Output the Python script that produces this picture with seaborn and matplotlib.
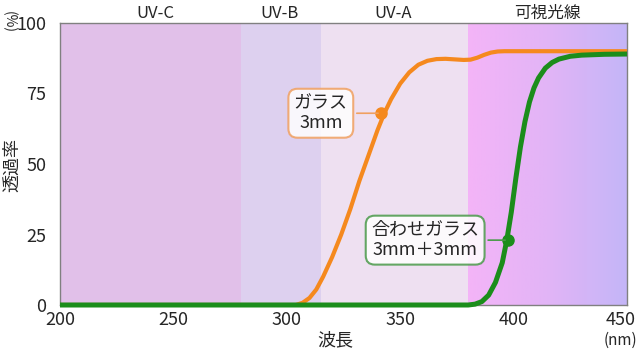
import numpy as np
import pandas as pd
import matplotlib
matplotlib.use("Agg")
import matplotlib.pyplot as plt
import matplotlib.transforms as mtransforms
import seaborn as sns
from matplotlib.colors import LinearSegmentedColormap

sns.set_theme(style="white")
plt.rcParams['font.family'] = ['Noto Sans CJK JP', 'DejaVu Sans']

# data
glass_wl = [200, 300, 304, 307, 310, 313, 316, 320, 324, 328, 332, 336, 340, 343, 346, 350,
            354, 358, 362, 366, 370, 374, 378, 381, 384, 387, 390, 393, 396, 400, 420, 450]
glass_t = [0, 0, 0, 0.8, 2.5, 5.5, 10, 17, 25, 34, 44, 53, 62, 68, 73, 78.5,
           82.5, 85.2, 86.6, 87.2, 87.3, 87.1, 86.9, 87.0, 87.7, 88.7, 89.5, 89.9, 90, 90, 90, 90]
lam_wl = [200, 380, 383, 386, 389, 392, 395, 397, 399, 401, 403, 405, 407, 409, 411, 414,
          417, 420, 425, 430, 440, 450]
lam_t = [0, 0, 0.3, 1.2, 3.5, 8, 15, 23, 33, 45, 56, 65, 72, 77, 80.5, 84,
         86, 87.2, 88.2, 88.6, 88.9, 89]

band_names = ["UV-C", "UV-B", "UV-A", "可視光線"]
band_edges = [200, 280, 315, 380, 450]
band_label_x = [242, 297, 347, 415]
band_colors = ["#e1c0e9", "#ddd0ef", "#eee0f1"]
xtick_labels = [200, 250, 300, 350, 400, 450]
ytick_labels = [0, 25, 50, 75, 100]

fig = plt.figure(figsize=(6.4, 3.51), dpi=100)
ax = fig.add_axes([60/640, 46/351, 567/640, 282/351])

for i, c in enumerate(band_colors):
    ax.axvspan(band_edges[i], band_edges[i+1], color=c, lw=0, zorder=0)
# visible gradient
grad = np.linspace(0, 1, 256).reshape(1, -1)
cmap = LinearSegmentedColormap.from_list("vis", ["#f4b4f8", "#e2b4f6", "#c4b6f8"])
ax.imshow(grad, extent=[band_edges[3], band_edges[4], 0, 100], aspect="auto",
          cmap=cmap, zorder=0)

df_g = pd.DataFrame({"wl": glass_wl, "t": glass_t})
df_l = pd.DataFrame({"wl": lam_wl, "t": lam_t})
sns.lineplot(data=df_g, x="wl", y="t", ax=ax, color="#f5891e", lw=3.0, zorder=3,
             solid_capstyle="butt")
sns.lineplot(data=df_l, x="wl", y="t", ax=ax, color="#1b8d1b", lw=3.6, zorder=4,
             solid_capstyle="butt", clip_on=False)

ax.set_xlim(200, 450)
ax.set_ylim(0, 100)
ax.set_xticks(xtick_labels)
ax.set_xticklabels([str(v) for v in xtick_labels], fontsize=13)
ax.set_xticks(np.arange(220, 450, 20), minor=True)
ax.tick_params(axis="x", which="major", length=0, pad=4)
ax.tick_params(axis="x", which="minor", length=4, direction="in", color="#555555", width=1)
ax.set_yticks(ytick_labels)
ax.set_yticklabels([str(v) for v in ytick_labels], fontsize=13)
ax.tick_params(axis="y", length=0, pad=10)
ax.set_xlabel("")
ax.set_ylabel("")
for s in ax.spines.values():
    s.set_color("#808080")
    s.set_linewidth(1)

# shift last x tick label left so it stays inside the figure
last = ax.get_xticklabels()[-1]
last.set_transform(last.get_transform() +
                   mtransforms.ScaledTranslation(-6/100, 0, fig.dpi_scale_trans))

# top band labels
for name, xm in zip(band_names, band_label_x):
    ax.text(xm, 101.8, name, ha="center", va="baseline", fontsize=12)

fig.text(12/640, 1 - 165/351, "透過率", rotation=90, ha="center", va="center", fontsize=13)
fig.text(9/640, 1 - 22/351, "(%)", rotation=270, ha="center", va="center", fontsize=10)
fig.text(335/640, 1 - 340/351, "波長", ha="center", va="center", fontsize=13)
fig.text(620/640, 1 - 340/351, "(nm)", ha="center", va="center", fontsize=11)

# annotations
ax.plot([341.5], [68], "o", color="#f5891e", ms=8, zorder=5)
ax.annotate("ガラス\n3mm", xy=(341.5, 68), xytext=(315, 68),
            fontsize=13, ha="center", va="center", linespacing=1.15,
            bbox=dict(boxstyle="round,pad=0.3,rounding_size=0.5", fc="white",
                      ec="#f0a060", lw=1.5, alpha=0.85),
            arrowprops=dict(arrowstyle="-", color="#f0a060", lw=1.2), zorder=5)
ax.plot([397.5], [23], "o", color="#1b8d1b", ms=8, zorder=5)
ax.annotate("合わせガラス\n3mm＋3mm", xy=(397.5, 23), xytext=(361, 23),
            fontsize=13, ha="center", va="center", linespacing=1.15,
            bbox=dict(boxstyle="round,pad=0.3,rounding_size=0.5", fc="white",
                      ec="#4a9a4a", lw=1.5, alpha=0.85),
            arrowprops=dict(arrowstyle="-", color="#4a9a4a", lw=1.2), zorder=5)

fig.savefig("out.png", dpi=100)
